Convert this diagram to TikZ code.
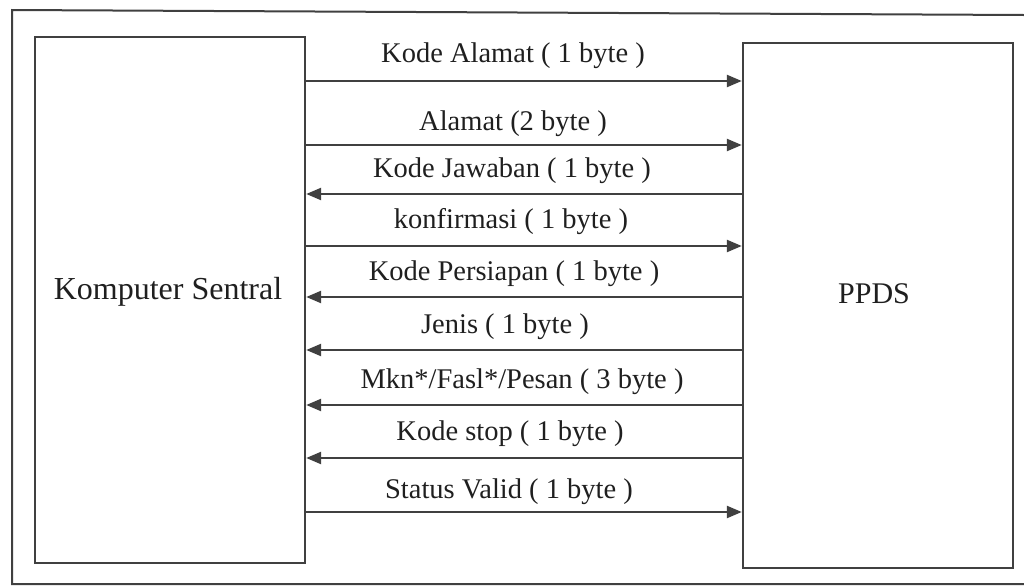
\documentclass[tikz,border=0pt]{standalone}
\usepackage{fontspec}
\setmainfont{Liberation Serif}
\usetikzlibrary{arrows.meta}
\begin{document}
\begin{tikzpicture}[x=1pt,y=-1pt,
  ln/.style={line width=2.4pt,draw=black!75},
  box/.style={ln,rectangle,inner sep=0pt},
  msg/.style={ln,-{Triangle[length=15pt,width=12pt]}},
  lbl/.style={inner sep=0pt,anchor=base,text=black!88,font=\fontsize{28.5}{32}\selectfont}
]
\useasboundingbox (0,0) rectangle (1024,587);
% outer frame
\coordinate (f1) at (1024,15);
\coordinate (f2) at (12,10);
\coordinate (f3) at (12,584);
\coordinate (f4) at (1024,584);
\draw[ln,line width=2pt] (f1) -- (f2) -- (f3) -- (f4);
% boxes
\node[box,minimum width=270pt,minimum height=526pt] (L) at (170,300) {};
\node[box,minimum width=270pt,minimum height=525pt] (R) at (878,305.5) {};
\node[anchor=base,inner sep=0pt,text=black!88,font=\fontsize{32}{36}\selectfont] (Lt) at (168,299) {Komputer Sentral};
\node[anchor=base,inner sep=0pt,text=black!88,font=\fontsize{30}{34}\selectfont] (Rt) at (874,303) {PPDS};
% messages
\draw[msg] (L.east |- 0,81)  -- (R.west |- 0,81);
\draw[msg] (L.east |- 0,145) -- (R.west |- 0,145);
\draw[msg] (R.west |- 0,194) -- (L.east |- 0,194);
\draw[msg] (L.east |- 0,246) -- (R.west |- 0,246);
\draw[msg] (R.west |- 0,297) -- (L.east |- 0,297);
\draw[msg] (R.west |- 0,350) -- (L.east |- 0,350);
\draw[msg] (R.west |- 0,405) -- (L.east |- 0,405);
\draw[msg] (R.west |- 0,458) -- (L.east |- 0,458);
\draw[msg] (L.east |- 0,512) -- (R.west |- 0,512);
% labels
\node[lbl] (m1) at (513,62)  {Kode Alamat ( 1 byte )};
\node[lbl] (m2) at (513,130) {Alamat (2 byte )};
\node[lbl] (m3) at (512,177) {Kode Jawaban ( 1 byte )};
\node[lbl] (m4) at (511,228) {konfirmasi ( 1 byte )};
\node[lbl] (m5) at (514,280) {Kode Persiapan ( 1 byte )};
\node[lbl] (m6) at (505,333) {Jenis ( 1 byte )};
\node[lbl] (m7) at (522,388) {Mkn*/Fasl*/Pesan ( 3 byte )};
\node[lbl] (m8) at (510,440) {Kode stop ( 1 byte )};
\node[lbl] (m9) at (509,498) {Status Valid ( 1 byte )};
\end{tikzpicture}
\end{document}
